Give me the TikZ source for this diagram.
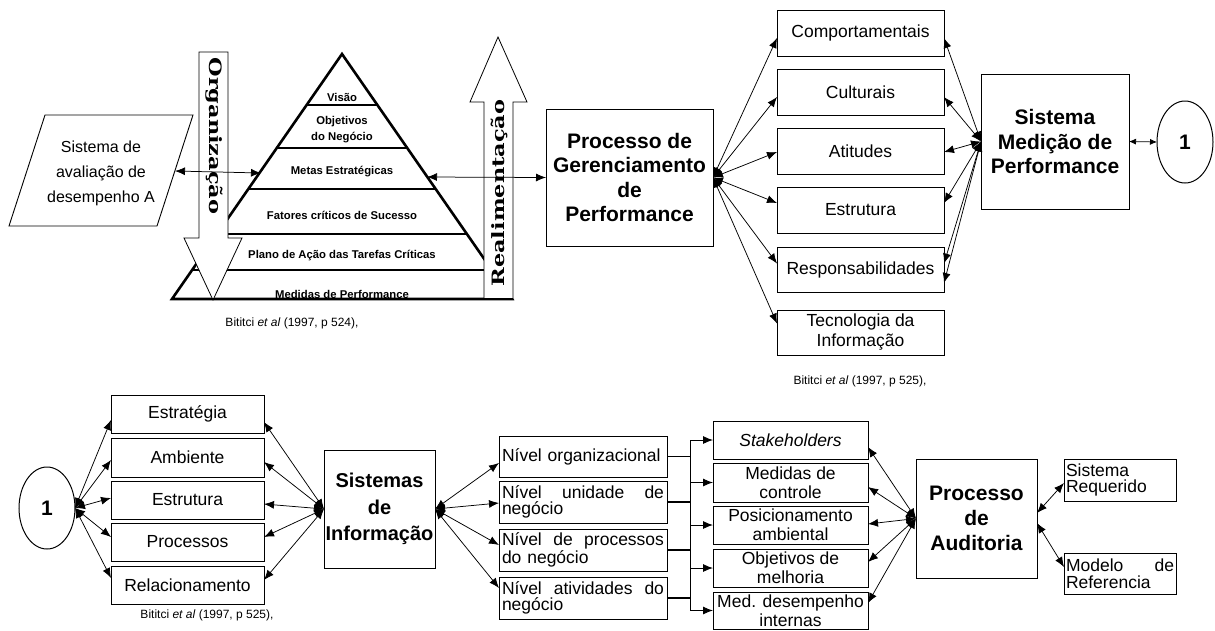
\documentclass[tikz,border=0pt]{standalone}
\usepackage{fontspec}
\setmainfont{Liberation Sans}
\newfontfamily\wideserif{DejaVu Serif}
\usetikzlibrary{arrows.meta,shapes.geometric}

% a line spread over a given width, words pushed apart
\newcommand\spreadline[2]{\leavevmode\hbox to #1{#2}}

\begin{document}
\begin{tikzpicture}[x=1pt,y=-1pt,
  >={Latex[length=10pt,width=8pt]},
  every node/.style={inner sep=0pt,outer sep=0pt},
  box/.style={draw,line width=1pt,fill=white,anchor=north west,align=center,
    font=\fontsize{17.5}{19}\selectfont},
  headbox/.style={box,font=\fontsize{21}{24.5}\selectfont\bfseries},
  leftbox/.style={box,align=left,font=\fontsize{17.5}{16.5}\selectfont},
  tier/.style={font=\fontsize{11.3}{15}\selectfont\bfseries,align=center},
  bigarrow/.style={draw,line width=0.8pt,fill=white,line join=miter},
  vlabel/.style={font=\wideserif\bfseries\fontsize{17}{17}\selectfont},
  caption/.style={font=\fontsize{12}{14}\selectfont},
  circ/.style={draw,ellipse,line width=1pt,minimum width=56pt,minimum height=82pt,
    font=\fontsize{21}{24}\selectfont\bfseries},
  link/.style={<->,line width=0.75pt},
  feed/.style={->,line width=0.9pt},
  pyramidline/.style={line width=2.6pt}
]
\useasboundingbox (0,0) rectangle (1215,630);

% ---------- pyramid of Bititci et al. ----------
\filldraw[pyramidline,fill=white] (172,299) -- (342,54) -- (512,299) -- cycle;
\foreach \yy in {105,148,189,234,270}{
  \draw[pyramidline] ({342-0.6939*(\yy-54)},\yy) -- ({342+0.6939*(\yy-54)},\yy);
}
\node[tier] (visao) at (342,97) {Visão};
\node[tier,font=\fontsize{11.3}{16}\selectfont\bfseries] (objet) at (342,130) {Objetivos\\do Negócio};
\node[tier] (metas) at (342,172) {Metas Estratégicas};
\node[tier] (fatores) at (342,215) {Fatores críticos de Sucesso};
\node[tier] (plano) at (342,256) {Plano de Ação das Tarefas Críticas};
\begin{scope}
  \clip (150,272) rectangle (520,298);
  \node[tier] (medidas) at (342,294) {Medidas de Performance};
\end{scope}

% hollow arrows: top-down deployment and bottom-up feedback
\filldraw[bigarrow] (199,52) -- (228,52) -- (228,238) -- (242,238) -- (213,300)
  -- (184,238) -- (199,238) -- cycle;
\filldraw[bigarrow] (484,299) -- (484,102) -- (470,102) -- (498,37) -- (527,102)
  -- (513,102) -- (513,299) -- cycle;
\node[vlabel,rotate=-90] (org) at (214,136) {\scalebox{1.32}[1]{Organização}};
\node[vlabel,rotate=90] (real) at (499,193) {\scalebox{1.32}[1]{Realimentação}};
\draw[pyramidline] (172,299) -- (513,299);

% ---------- evaluation system A ----------
\filldraw[line width=0.9pt,fill=white] (45,115) -- (193,115) -- (157,226) -- (9,226) -- cycle;
\node[font=\fontsize{16}{25}\selectfont,align=center] (aval) at (101,173)
  {Sistema de\\avaliação de\\desempenho A};
\coordinate (avalE) at (175,171);
\coordinate (pyrW) at (261,173);
\coordinate (pyrE) at (427,177);
\draw[link] (avalE) -- (pyrW);

% ---------- performance management process ----------
\node[headbox,minimum width=167pt,minimum height=137pt] (pg) at (546,109)
  {Processo de\\Gerenciamento\\de\\Performance};
\draw[link] (pyrE) -- (pg.west);

\node[box,minimum width=167pt,minimum height=46pt] (comp) at (777,10) {Comportamentais};
\node[box,minimum width=167pt,minimum height=46pt] (cult) at (777,69) {Culturais};
\node[box,minimum width=167pt,minimum height=46pt] (atit) at (777,128) {Atitudes};
\node[box,minimum width=167pt,minimum height=46pt] (estr) at (777,187) {Estrutura};
\node[box,minimum width=167pt,minimum height=45pt] (resp) at (777,247) {Responsabilidades};
\node[box,minimum width=167pt,minimum height=45pt,font=\fontsize{17.5}{20}\selectfont] (tec) at (777,310)
  {Tecnologia da\\Informação};

\node[headbox,minimum width=148pt,minimum height=135pt] (smp) at (981,74)
  {Sistema\\Medição de\\Performance};
\node[circ] (one) at (1185,142) {1};
\draw[<->,>={Latex[length=7pt,width=6pt]},line width=0.75pt] (smp.east) -- (one.west);

\foreach \n/\s in {comp/-5,cult/-5,atit/-1,estr/7,resp/6,tec/9}
  \draw[link] (pg.east) -- ([yshift=\s pt]\n.west);
\foreach \n/\s in {comp/-5,cult/-5,atit/-1,estr/7,resp/6,resp/-13.5}
  \draw[link] (smp.west) -- ([yshift=\s pt]\n.east);

% ---------- information systems ----------
\node[circ] (one2) at (47,508) {1};
\node[box,minimum width=153pt,minimum height=38pt] (estg) at (111,395) {Estratégia};
\node[box,minimum width=153pt,minimum height=39pt] (amb) at (111,438) {Ambiente};
\node[box,minimum width=153pt,minimum height=38pt] (estb) at (111,481) {Estrutura};
\node[box,minimum width=153pt,minimum height=38pt] (proc) at (111,523) {Processos};
\node[box,minimum width=153pt,minimum height=38pt] (rel) at (111,566) {Relacionamento};

\node[headbox,minimum width=111pt,minimum height=118pt,font=\fontsize{20}{26.5}\selectfont\bfseries] (si) at (324,450)
  {Sistemas\\de\\Informação};

\foreach \n/\s in {estg/-6,amb/-2.5,estb/2,proc/5,rel/7}
  \draw[link] (one2.east) -- ([yshift=\s pt]\n.west);
\foreach \n/\s in {estg/-8,amb/-4.5,estb/-4,proc/5,rel/5}
  \draw[link] (si.west) -- ([yshift=\s pt]\n.east);

% business levels
\node[leftbox,minimum width=168pt,minimum height=41pt,text width=162pt] (nv1) at (499,436)
  {Nível organizacional};
\node[leftbox,minimum width=168pt,minimum height=42pt,text width=162pt] (nv2) at (499,481)
  {\spreadline{162pt}{Nível\hfill unidade\hfill de}\\negócio};
\node[leftbox,minimum width=168pt,minimum height=42pt,text width=162pt] (nv3) at (499,529)
  {\spreadline{162pt}{Nível\hfill de\hfill processos}\\do negócio};
\node[leftbox,minimum width=168pt,minimum height=42pt,text width=162pt] (nv4) at (499,577)
  {\spreadline{162pt}{Nível\hfill atividades\hfill do}\\negócio};

\foreach \n/\s in {nv1/-6.5,nv2/-1,nv3/5,nv4/10}
  \draw[link] (si.east) -- ([yshift=\s pt]\n.west);

% audit targets
\node[box,minimum width=155pt,minimum height=38pt] (stk) at (713,421) {\textit{Stakeholders}};
\node[box,minimum width=155pt,minimum height=39pt] (medc) at (713,463) {Medidas de\\controle};
\node[box,minimum width=155pt,minimum height=38pt] (pos) at (713,506) {Posicionamento\\ambiental};
\node[box,minimum width=155pt,minimum height=38pt] (obj) at (713,549) {Objetivos de\\melhoria};
\node[box,minimum width=155pt,minimum height=37pt] (mdi) at (713,592) {Med. desempenho\\internas};

\coordinate (busT) at (690,440);
\coordinate (busB) at (690,610);
\draw[line width=0.9pt] (busT) -- (busB);
\draw[line width=0.8pt] (nv1.east) -- (nv1.east -| busT);
\foreach \n in {nv2,nv3,nv4}
  \draw[line width=1.3pt] (\n.east) -- (\n.east -| busT);
\foreach \n in {stk,medc,pos,obj,mdi}
  \draw[feed] (\n.west -| busT) -- (\n.west);

% ---------- audit process ----------
\node[headbox,minimum width=121pt,minimum height=119pt,font=\fontsize{21}{25}\selectfont\bfseries] (au) at (916,459)
  {Processo\\de\\Auditoria};
\foreach \n/\s in {stk/-7,medc/-4.5,pos/1,obj/6,mdi/7.5}
  \draw[link] (au.west) -- ([yshift=\s pt]\n.east);

\node[leftbox,minimum width=112pt,minimum height=42pt,text width=108pt] (sr) at (1064,459)
  {Sistema\\Requerido};
\node[leftbox,minimum width=112pt,minimum height=41pt,text width=108pt] (mr) at (1064,553)
  {\spreadline{108pt}{Modelo\hfill de}\\Referencia};
\draw[link] ([yshift=5.5pt]au.east) -- ([yshift=-3pt]sr.west);
\draw[link] ([yshift=-4.5pt]au.east) -- ([yshift=6.5pt]mr.west);

% ---------- sources ----------
\node[caption] (cap1) at (292,323) {Bititci \textit{et al} (1997, p 524),};
\node[caption] (cap2) at (860,381) {Bititci \textit{et al} (1997, p 525),};
\node[caption] (cap3) at (207,615) {Bititci \textit{et al} (1997, p 525),};
\end{tikzpicture}
\end{document}
